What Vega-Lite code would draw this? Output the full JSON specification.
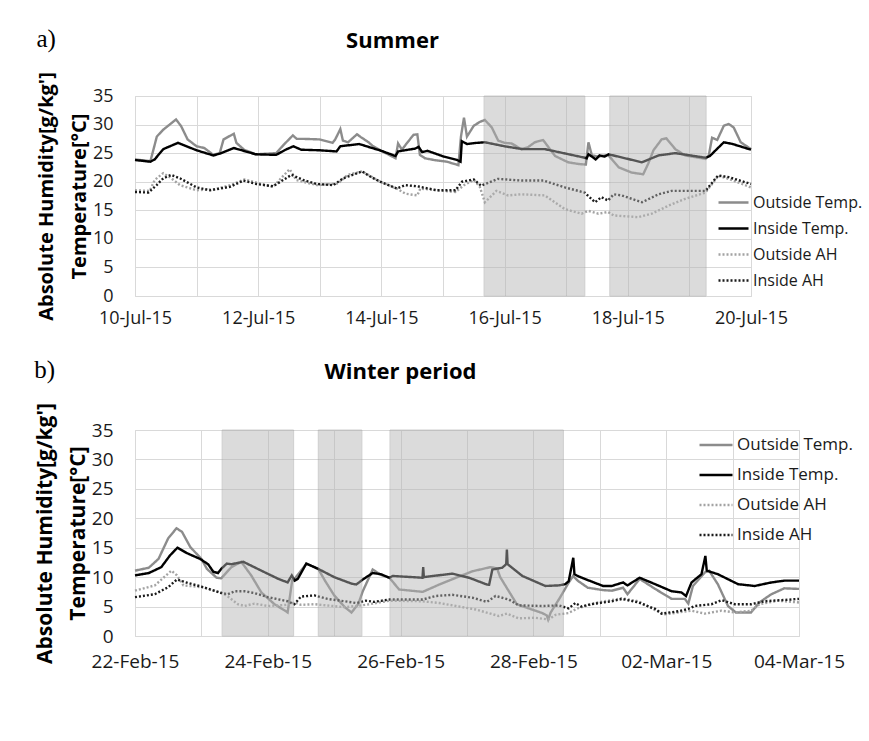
{
  "$schema": "https://vega.github.io/schema/vega-lite/v6.json",
  "background": "white",
  "padding": {"top": 26, "left": 33, "right": 0, "bottom": 0},
  "spacing": 29,
  "config": {
    "view": {"stroke": "#d9d9d9", "strokeWidth": 1},
    "font": "Open Sans",
    "axis": {"labelColor": "#1a1a1a", "titleColor": "#000000", "gridColor": "#d9d9d9", "gridWidth": 1, "domain": false, "ticks": false, "labelFont": "Open Sans", "titleFont": "Open Sans"},
    "legend": {"labelFont": "Open Sans", "labelColor": "#1a1a1a"}
  },
  "resolve": {"scale": {"color": "independent", "strokeDash": "independent", "x": "independent", "y": "independent"}},
  "datasets": {
    "summer": [
      {"t": "2015-07-10T00:00", "s": "Outside Temp.", "v": 23.9},
      {"t": "2015-07-10T06:00", "s": "Outside Temp.", "v": 23.6},
      {"t": "2015-07-10T07:00", "s": "Outside Temp.", "v": 25.3},
      {"t": "2015-07-10T08:30", "s": "Outside Temp.", "v": 27.9},
      {"t": "2015-07-10T11:00", "s": "Outside Temp.", "v": 29.1},
      {"t": "2015-07-10T13:30", "s": "Outside Temp.", "v": 30.0},
      {"t": "2015-07-10T16:00", "s": "Outside Temp.", "v": 30.9},
      {"t": "2015-07-10T18:00", "s": "Outside Temp.", "v": 29.7},
      {"t": "2015-07-10T20:30", "s": "Outside Temp.", "v": 27.4},
      {"t": "2015-07-11T00:00", "s": "Outside Temp.", "v": 26.2},
      {"t": "2015-07-11T03:00", "s": "Outside Temp.", "v": 25.9},
      {"t": "2015-07-11T06:30", "s": "Outside Temp.", "v": 24.7},
      {"t": "2015-07-11T09:00", "s": "Outside Temp.", "v": 25.0},
      {"t": "2015-07-11T10:30", "s": "Outside Temp.", "v": 27.4},
      {"t": "2015-07-11T14:30", "s": "Outside Temp.", "v": 28.4},
      {"t": "2015-07-11T15:30", "s": "Outside Temp.", "v": 26.8},
      {"t": "2015-07-11T18:30", "s": "Outside Temp.", "v": 25.6},
      {"t": "2015-07-11T23:00", "s": "Outside Temp.", "v": 24.8},
      {"t": "2015-07-12T07:00", "s": "Outside Temp.", "v": 25.0},
      {"t": "2015-07-12T10:00", "s": "Outside Temp.", "v": 26.5},
      {"t": "2015-07-12T13:30", "s": "Outside Temp.", "v": 28.1},
      {"t": "2015-07-12T15:00", "s": "Outside Temp.", "v": 27.5},
      {"t": "2015-07-12T17:30", "s": "Outside Temp.", "v": 27.5},
      {"t": "2015-07-13T00:00", "s": "Outside Temp.", "v": 27.4},
      {"t": "2015-07-13T05:00", "s": "Outside Temp.", "v": 26.8},
      {"t": "2015-07-13T06:00", "s": "Outside Temp.", "v": 27.4},
      {"t": "2015-07-13T08:00", "s": "Outside Temp.", "v": 29.2},
      {"t": "2015-07-13T09:00", "s": "Outside Temp.", "v": 27.2},
      {"t": "2015-07-13T11:00", "s": "Outside Temp.", "v": 26.9},
      {"t": "2015-07-13T14:30", "s": "Outside Temp.", "v": 28.3},
      {"t": "2015-07-13T16:00", "s": "Outside Temp.", "v": 27.8},
      {"t": "2015-07-13T19:00", "s": "Outside Temp.", "v": 26.9},
      {"t": "2015-07-13T20:30", "s": "Outside Temp.", "v": 26.3},
      {"t": "2015-07-14T00:00", "s": "Outside Temp.", "v": 25.4},
      {"t": "2015-07-14T05:30", "s": "Outside Temp.", "v": 24.1},
      {"t": "2015-07-14T06:30", "s": "Outside Temp.", "v": 26.7},
      {"t": "2015-07-14T08:00", "s": "Outside Temp.", "v": 25.6},
      {"t": "2015-07-14T09:30", "s": "Outside Temp.", "v": 26.5},
      {"t": "2015-07-14T12:30", "s": "Outside Temp.", "v": 28.2},
      {"t": "2015-07-14T14:00", "s": "Outside Temp.", "v": 28.3},
      {"t": "2015-07-14T15:00", "s": "Outside Temp.", "v": 24.7},
      {"t": "2015-07-14T17:00", "s": "Outside Temp.", "v": 24.1},
      {"t": "2015-07-14T20:30", "s": "Outside Temp.", "v": 23.8},
      {"t": "2015-07-15T01:30", "s": "Outside Temp.", "v": 23.5},
      {"t": "2015-07-15T06:00", "s": "Outside Temp.", "v": 22.9},
      {"t": "2015-07-15T07:00", "s": "Outside Temp.", "v": 27.9},
      {"t": "2015-07-15T08:10", "s": "Outside Temp.", "v": 31.2},
      {"t": "2015-07-15T09:20", "s": "Outside Temp.", "v": 27.9},
      {"t": "2015-07-15T12:00", "s": "Outside Temp.", "v": 29.8},
      {"t": "2015-07-15T14:30", "s": "Outside Temp.", "v": 30.5},
      {"t": "2015-07-15T16:20", "s": "Outside Temp.", "v": 30.8},
      {"t": "2015-07-15T19:00", "s": "Outside Temp.", "v": 29.5},
      {"t": "2015-07-15T21:30", "s": "Outside Temp.", "v": 27.2},
      {"t": "2015-07-16T00:00", "s": "Outside Temp.", "v": 26.8},
      {"t": "2015-07-16T02:40", "s": "Outside Temp.", "v": 26.7},
      {"t": "2015-07-16T06:30", "s": "Outside Temp.", "v": 25.7},
      {"t": "2015-07-16T09:00", "s": "Outside Temp.", "v": 26.0},
      {"t": "2015-07-16T11:45", "s": "Outside Temp.", "v": 26.9},
      {"t": "2015-07-16T15:00", "s": "Outside Temp.", "v": 27.3},
      {"t": "2015-07-16T16:20", "s": "Outside Temp.", "v": 26.5},
      {"t": "2015-07-16T19:40", "s": "Outside Temp.", "v": 24.5},
      {"t": "2015-07-17T00:45", "s": "Outside Temp.", "v": 23.4},
      {"t": "2015-07-17T04:50", "s": "Outside Temp.", "v": 23.1},
      {"t": "2015-07-17T07:40", "s": "Outside Temp.", "v": 23.0},
      {"t": "2015-07-17T08:40", "s": "Outside Temp.", "v": 26.9},
      {"t": "2015-07-17T10:00", "s": "Outside Temp.", "v": 24.6},
      {"t": "2015-07-17T12:30", "s": "Outside Temp.", "v": 24.4},
      {"t": "2015-07-17T16:20", "s": "Outside Temp.", "v": 24.7},
      {"t": "2015-07-17T20:30", "s": "Outside Temp.", "v": 22.5},
      {"t": "2015-07-18T01:30", "s": "Outside Temp.", "v": 21.6},
      {"t": "2015-07-18T06:00", "s": "Outside Temp.", "v": 21.3},
      {"t": "2015-07-18T08:00", "s": "Outside Temp.", "v": 23.2},
      {"t": "2015-07-18T10:00", "s": "Outside Temp.", "v": 25.5},
      {"t": "2015-07-18T13:10", "s": "Outside Temp.", "v": 27.4},
      {"t": "2015-07-18T15:00", "s": "Outside Temp.", "v": 27.6},
      {"t": "2015-07-18T18:30", "s": "Outside Temp.", "v": 25.7},
      {"t": "2015-07-18T22:20", "s": "Outside Temp.", "v": 24.6},
      {"t": "2015-07-19T06:15", "s": "Outside Temp.", "v": 24.0},
      {"t": "2015-07-19T07:30", "s": "Outside Temp.", "v": 24.5},
      {"t": "2015-07-19T08:50", "s": "Outside Temp.", "v": 27.7},
      {"t": "2015-07-19T10:50", "s": "Outside Temp.", "v": 27.3},
      {"t": "2015-07-19T13:25", "s": "Outside Temp.", "v": 29.8},
      {"t": "2015-07-19T15:20", "s": "Outside Temp.", "v": 30.1},
      {"t": "2015-07-19T17:15", "s": "Outside Temp.", "v": 29.5},
      {"t": "2015-07-19T20:00", "s": "Outside Temp.", "v": 26.9},
      {"t": "2015-07-20T00:00", "s": "Outside Temp.", "v": 25.7},

      {"t": "2015-07-10T00:00", "s": "Inside Temp.", "v": 23.8},
      {"t": "2015-07-10T06:00", "s": "Inside Temp.", "v": 23.5},
      {"t": "2015-07-10T07:40", "s": "Inside Temp.", "v": 23.9},
      {"t": "2015-07-10T11:00", "s": "Inside Temp.", "v": 25.7},
      {"t": "2015-07-10T16:45", "s": "Inside Temp.", "v": 26.8},
      {"t": "2015-07-11T00:00", "s": "Inside Temp.", "v": 25.5},
      {"t": "2015-07-11T06:30", "s": "Inside Temp.", "v": 24.6},
      {"t": "2015-07-11T09:00", "s": "Inside Temp.", "v": 24.9},
      {"t": "2015-07-11T14:30", "s": "Inside Temp.", "v": 25.9},
      {"t": "2015-07-11T23:00", "s": "Inside Temp.", "v": 24.8},
      {"t": "2015-07-12T07:00", "s": "Inside Temp.", "v": 24.7},
      {"t": "2015-07-12T10:40", "s": "Inside Temp.", "v": 25.6},
      {"t": "2015-07-12T13:40", "s": "Inside Temp.", "v": 26.2},
      {"t": "2015-07-12T16:45", "s": "Inside Temp.", "v": 25.6},
      {"t": "2015-07-13T00:00", "s": "Inside Temp.", "v": 25.5},
      {"t": "2015-07-13T06:30", "s": "Inside Temp.", "v": 25.3},
      {"t": "2015-07-13T08:00", "s": "Inside Temp.", "v": 26.2},
      {"t": "2015-07-13T15:20", "s": "Inside Temp.", "v": 26.6},
      {"t": "2015-07-14T00:00", "s": "Inside Temp.", "v": 25.4},
      {"t": "2015-07-14T05:30", "s": "Inside Temp.", "v": 24.5},
      {"t": "2015-07-14T06:30", "s": "Inside Temp.", "v": 25.3},
      {"t": "2015-07-14T13:10", "s": "Inside Temp.", "v": 25.8},
      {"t": "2015-07-14T14:30", "s": "Inside Temp.", "v": 26.1},
      {"t": "2015-07-14T15:50", "s": "Inside Temp.", "v": 25.2},
      {"t": "2015-07-14T18:00", "s": "Inside Temp.", "v": 25.4},
      {"t": "2015-07-15T00:15", "s": "Inside Temp.", "v": 24.4},
      {"t": "2015-07-15T05:30", "s": "Inside Temp.", "v": 23.8},
      {"t": "2015-07-15T06:50", "s": "Inside Temp.", "v": 23.5},
      {"t": "2015-07-15T07:20", "s": "Inside Temp.", "v": 27.1},
      {"t": "2015-07-15T09:20", "s": "Inside Temp.", "v": 26.6},
      {"t": "2015-07-15T13:10", "s": "Inside Temp.", "v": 26.8},
      {"t": "2015-07-15T16:20", "s": "Inside Temp.", "v": 26.9},
      {"t": "2015-07-16T00:00", "s": "Inside Temp.", "v": 26.2},
      {"t": "2015-07-16T07:00", "s": "Inside Temp.", "v": 25.7},
      {"t": "2015-07-16T15:40", "s": "Inside Temp.", "v": 25.7},
      {"t": "2015-07-17T00:00", "s": "Inside Temp.", "v": 24.9},
      {"t": "2015-07-17T07:10", "s": "Inside Temp.", "v": 24.2},
      {"t": "2015-07-17T08:00", "s": "Inside Temp.", "v": 24.1},
      {"t": "2015-07-17T08:40", "s": "Inside Temp.", "v": 24.8},
      {"t": "2015-07-17T10:00", "s": "Inside Temp.", "v": 24.4},
      {"t": "2015-07-17T11:30", "s": "Inside Temp.", "v": 23.9},
      {"t": "2015-07-17T13:00", "s": "Inside Temp.", "v": 24.6},
      {"t": "2015-07-17T15:00", "s": "Inside Temp.", "v": 24.4},
      {"t": "2015-07-17T16:30", "s": "Inside Temp.", "v": 24.8},
      {"t": "2015-07-18T05:30", "s": "Inside Temp.", "v": 23.4},
      {"t": "2015-07-18T12:00", "s": "Inside Temp.", "v": 24.6},
      {"t": "2015-07-18T18:30", "s": "Inside Temp.", "v": 25.0},
      {"t": "2015-07-19T06:15", "s": "Inside Temp.", "v": 24.2},
      {"t": "2015-07-19T08:00", "s": "Inside Temp.", "v": 24.5},
      {"t": "2015-07-19T10:00", "s": "Inside Temp.", "v": 25.4},
      {"t": "2015-07-19T13:25", "s": "Inside Temp.", "v": 26.9},
      {"t": "2015-07-19T16:50", "s": "Inside Temp.", "v": 26.6},
      {"t": "2015-07-20T00:00", "s": "Inside Temp.", "v": 25.6},

      {"t": "2015-07-10T00:00", "s": "Outside AH", "v": 18.5},
      {"t": "2015-07-10T05:45", "s": "Outside AH", "v": 18.4},
      {"t": "2015-07-10T07:40", "s": "Outside AH", "v": 20.3},
      {"t": "2015-07-10T11:00", "s": "Outside AH", "v": 21.5},
      {"t": "2015-07-10T14:10", "s": "Outside AH", "v": 20.6},
      {"t": "2015-07-10T17:30", "s": "Outside AH", "v": 19.4},
      {"t": "2015-07-11T00:00", "s": "Outside AH", "v": 18.5},
      {"t": "2015-07-11T07:10", "s": "Outside AH", "v": 18.7},
      {"t": "2015-07-11T13:00", "s": "Outside AH", "v": 19.4},
      {"t": "2015-07-11T18:40", "s": "Outside AH", "v": 20.4},
      {"t": "2015-07-12T05:45", "s": "Outside AH", "v": 19.1},
      {"t": "2015-07-12T12:15", "s": "Outside AH", "v": 22.2},
      {"t": "2015-07-12T14:50", "s": "Outside AH", "v": 20.3},
      {"t": "2015-07-12T22:50", "s": "Outside AH", "v": 19.4},
      {"t": "2015-07-13T07:10", "s": "Outside AH", "v": 19.7},
      {"t": "2015-07-13T10:50", "s": "Outside AH", "v": 21.2},
      {"t": "2015-07-13T16:30", "s": "Outside AH", "v": 21.8},
      {"t": "2015-07-13T23:30", "s": "Outside AH", "v": 20.0},
      {"t": "2015-07-14T06:00", "s": "Outside AH", "v": 18.8},
      {"t": "2015-07-14T09:20", "s": "Outside AH", "v": 17.9},
      {"t": "2015-07-14T14:00", "s": "Outside AH", "v": 17.6},
      {"t": "2015-07-14T15:10", "s": "Outside AH", "v": 18.8},
      {"t": "2015-07-14T21:40", "s": "Outside AH", "v": 18.5},
      {"t": "2015-07-15T04:50", "s": "Outside AH", "v": 18.2},
      {"t": "2015-07-15T08:10", "s": "Outside AH", "v": 19.4},
      {"t": "2015-07-15T12:00", "s": "Outside AH", "v": 20.3},
      {"t": "2015-07-15T14:20", "s": "Outside AH", "v": 19.1},
      {"t": "2015-07-15T16:20", "s": "Outside AH", "v": 16.4},
      {"t": "2015-07-15T20:50", "s": "Outside AH", "v": 18.4},
      {"t": "2015-07-16T01:25", "s": "Outside AH", "v": 17.6},
      {"t": "2015-07-16T06:30", "s": "Outside AH", "v": 17.8},
      {"t": "2015-07-16T15:40", "s": "Outside AH", "v": 17.6},
      {"t": "2015-07-16T23:30", "s": "Outside AH", "v": 15.2},
      {"t": "2015-07-17T06:00", "s": "Outside AH", "v": 14.4},
      {"t": "2015-07-17T08:40", "s": "Outside AH", "v": 14.9},
      {"t": "2015-07-17T12:30", "s": "Outside AH", "v": 14.4},
      {"t": "2015-07-17T16:20", "s": "Outside AH", "v": 14.7},
      {"t": "2015-07-17T18:30", "s": "Outside AH", "v": 14.1},
      {"t": "2015-07-18T04:05", "s": "Outside AH", "v": 13.8},
      {"t": "2015-07-18T09:20", "s": "Outside AH", "v": 14.4},
      {"t": "2015-07-18T15:50", "s": "Outside AH", "v": 15.8},
      {"t": "2015-07-18T22:20", "s": "Outside AH", "v": 17.0},
      {"t": "2015-07-19T06:15", "s": "Outside AH", "v": 18.1},
      {"t": "2015-07-19T09:20", "s": "Outside AH", "v": 19.9},
      {"t": "2015-07-19T11:15", "s": "Outside AH", "v": 21.0},
      {"t": "2015-07-19T15:20", "s": "Outside AH", "v": 20.5},
      {"t": "2015-07-20T00:00", "s": "Outside AH", "v": 19.0},

      {"t": "2015-07-10T00:00", "s": "Inside AH", "v": 18.2},
      {"t": "2015-07-10T05:15", "s": "Inside AH", "v": 18.1},
      {"t": "2015-07-10T08:25", "s": "Inside AH", "v": 19.4},
      {"t": "2015-07-10T11:00", "s": "Inside AH", "v": 20.6},
      {"t": "2015-07-10T14:10", "s": "Inside AH", "v": 21.2},
      {"t": "2015-07-10T17:30", "s": "Inside AH", "v": 20.6},
      {"t": "2015-07-11T00:00", "s": "Inside AH", "v": 19.0},
      {"t": "2015-07-11T05:15", "s": "Inside AH", "v": 18.5},
      {"t": "2015-07-11T13:00", "s": "Inside AH", "v": 19.1},
      {"t": "2015-07-11T18:15", "s": "Inside AH", "v": 20.2},
      {"t": "2015-07-11T23:15", "s": "Inside AH", "v": 19.6},
      {"t": "2015-07-12T05:45", "s": "Inside AH", "v": 19.2},
      {"t": "2015-07-12T13:00", "s": "Inside AH", "v": 21.2},
      {"t": "2015-07-12T17:30", "s": "Inside AH", "v": 20.3},
      {"t": "2015-07-12T22:50", "s": "Inside AH", "v": 19.6},
      {"t": "2015-07-13T05:15", "s": "Inside AH", "v": 19.4},
      {"t": "2015-07-13T09:10", "s": "Inside AH", "v": 20.6},
      {"t": "2015-07-13T16:30", "s": "Inside AH", "v": 21.8},
      {"t": "2015-07-13T19:40", "s": "Inside AH", "v": 20.9},
      {"t": "2015-07-13T23:30", "s": "Inside AH", "v": 20.0},
      {"t": "2015-07-14T06:00", "s": "Inside AH", "v": 18.8},
      {"t": "2015-07-14T09:20", "s": "Inside AH", "v": 19.4},
      {"t": "2015-07-14T14:00", "s": "Inside AH", "v": 19.2},
      {"t": "2015-07-14T21:40", "s": "Inside AH", "v": 18.5},
      {"t": "2015-07-15T04:50", "s": "Inside AH", "v": 18.5},
      {"t": "2015-07-15T07:25", "s": "Inside AH", "v": 20.0},
      {"t": "2015-07-15T12:00", "s": "Inside AH", "v": 20.4},
      {"t": "2015-07-15T14:50", "s": "Inside AH", "v": 19.3},
      {"t": "2015-07-15T21:20", "s": "Inside AH", "v": 20.5},
      {"t": "2015-07-16T06:30", "s": "Inside AH", "v": 20.2},
      {"t": "2015-07-16T15:10", "s": "Inside AH", "v": 20.2},
      {"t": "2015-07-16T23:30", "s": "Inside AH", "v": 19.0},
      {"t": "2015-07-17T07:10", "s": "Inside AH", "v": 18.1},
      {"t": "2015-07-17T11:15", "s": "Inside AH", "v": 16.4},
      {"t": "2015-07-17T13:40", "s": "Inside AH", "v": 17.3},
      {"t": "2015-07-17T16:20", "s": "Inside AH", "v": 16.7},
      {"t": "2015-07-17T18:30", "s": "Inside AH", "v": 17.8},
      {"t": "2015-07-17T21:40", "s": "Inside AH", "v": 17.6},
      {"t": "2015-07-18T05:30", "s": "Inside AH", "v": 16.4},
      {"t": "2015-07-18T12:00", "s": "Inside AH", "v": 17.8},
      {"t": "2015-07-18T17:00", "s": "Inside AH", "v": 18.4},
      {"t": "2015-07-19T06:15", "s": "Inside AH", "v": 18.4},
      {"t": "2015-07-19T10:05", "s": "Inside AH", "v": 20.5},
      {"t": "2015-07-19T11:15", "s": "Inside AH", "v": 21.1},
      {"t": "2015-07-19T15:20", "s": "Inside AH", "v": 20.8},
      {"t": "2015-07-20T00:00", "s": "Inside AH", "v": 19.6}
    ],
    "summerShade": [
      {"start": "2015-07-15T16:00", "end": "2015-07-17T07:15"},
      {"start": "2015-07-17T17:00", "end": "2015-07-19T06:30"}
    ],
    "winter": [
      {"t": "2015-02-22T00:00", "s": "Outside Temp.", "v": 11.1},
      {"t": "2015-02-22T05:00", "s": "Outside Temp.", "v": 11.6},
      {"t": "2015-02-22T08:30", "s": "Outside Temp.", "v": 13.1},
      {"t": "2015-02-22T12:00", "s": "Outside Temp.", "v": 16.6},
      {"t": "2015-02-22T15:00", "s": "Outside Temp.", "v": 18.3},
      {"t": "2015-02-22T17:00", "s": "Outside Temp.", "v": 17.7},
      {"t": "2015-02-22T20:00", "s": "Outside Temp.", "v": 15.1},
      {"t": "2015-02-23T00:00", "s": "Outside Temp.", "v": 13.1},
      {"t": "2015-02-23T02:00", "s": "Outside Temp.", "v": 11.4},
      {"t": "2015-02-23T05:30", "s": "Outside Temp.", "v": 9.9},
      {"t": "2015-02-23T07:10", "s": "Outside Temp.", "v": 9.8},
      {"t": "2015-02-23T10:50", "s": "Outside Temp.", "v": 11.7},
      {"t": "2015-02-23T14:25", "s": "Outside Temp.", "v": 12.6},
      {"t": "2015-02-23T18:00", "s": "Outside Temp.", "v": 10.3},
      {"t": "2015-02-23T21:40", "s": "Outside Temp.", "v": 7.4},
      {"t": "2015-02-24T02:25", "s": "Outside Temp.", "v": 5.4},
      {"t": "2015-02-24T06:15", "s": "Outside Temp.", "v": 4.3},
      {"t": "2015-02-24T07:10", "s": "Outside Temp.", "v": 4.0},
      {"t": "2015-02-24T08:50", "s": "Outside Temp.", "v": 9.5},
      {"t": "2015-02-24T09:40", "s": "Outside Temp.", "v": 9.7},
      {"t": "2015-02-24T14:00", "s": "Outside Temp.", "v": 12.3},
      {"t": "2015-02-24T18:15", "s": "Outside Temp.", "v": 11.4},
      {"t": "2015-02-24T20:40", "s": "Outside Temp.", "v": 9.4},
      {"t": "2015-02-25T00:00", "s": "Outside Temp.", "v": 6.9},
      {"t": "2015-02-25T03:50", "s": "Outside Temp.", "v": 4.9},
      {"t": "2015-02-25T06:15", "s": "Outside Temp.", "v": 4.0},
      {"t": "2015-02-25T08:40", "s": "Outside Temp.", "v": 5.4},
      {"t": "2015-02-25T10:20", "s": "Outside Temp.", "v": 7.6},
      {"t": "2015-02-25T13:55", "s": "Outside Temp.", "v": 11.3},
      {"t": "2015-02-25T16:50", "s": "Outside Temp.", "v": 10.4},
      {"t": "2015-02-25T19:55", "s": "Outside Temp.", "v": 9.9},
      {"t": "2015-02-25T23:30", "s": "Outside Temp.", "v": 7.9},
      {"t": "2015-02-26T08:00", "s": "Outside Temp.", "v": 7.5},
      {"t": "2015-02-26T14:00", "s": "Outside Temp.", "v": 8.75},
      {"t": "2015-02-26T20:00", "s": "Outside Temp.", "v": 9.9},
      {"t": "2015-02-27T02:00", "s": "Outside Temp.", "v": 11.0},
      {"t": "2015-02-27T08:30", "s": "Outside Temp.", "v": 11.7},
      {"t": "2015-02-27T10:50", "s": "Outside Temp.", "v": 11.5},
      {"t": "2015-02-27T12:00", "s": "Outside Temp.", "v": 10.0},
      {"t": "2015-02-27T18:00", "s": "Outside Temp.", "v": 5.4},
      {"t": "2015-02-27T23:30", "s": "Outside Temp.", "v": 4.5},
      {"t": "2015-02-28T03:10", "s": "Outside Temp.", "v": 3.9},
      {"t": "2015-02-28T04:50", "s": "Outside Temp.", "v": 3.5},
      {"t": "2015-02-28T05:20", "s": "Outside Temp.", "v": 2.8},
      {"t": "2015-02-28T06:15", "s": "Outside Temp.", "v": 4.0},
      {"t": "2015-02-28T09:35", "s": "Outside Temp.", "v": 6.5},
      {"t": "2015-02-28T12:40", "s": "Outside Temp.", "v": 9.0},
      {"t": "2015-02-28T14:20", "s": "Outside Temp.", "v": 10.2},
      {"t": "2015-02-28T16:00", "s": "Outside Temp.", "v": 9.4},
      {"t": "2015-02-28T19:40", "s": "Outside Temp.", "v": 8.2},
      {"t": "2015-03-01T01:10", "s": "Outside Temp.", "v": 7.8},
      {"t": "2015-03-01T04:20", "s": "Outside Temp.", "v": 7.7},
      {"t": "2015-03-01T08:25", "s": "Outside Temp.", "v": 8.2},
      {"t": "2015-03-01T10:00", "s": "Outside Temp.", "v": 7.1},
      {"t": "2015-03-01T14:25", "s": "Outside Temp.", "v": 9.7},
      {"t": "2015-03-01T20:00", "s": "Outside Temp.", "v": 8.0},
      {"t": "2015-03-02T02:00", "s": "Outside Temp.", "v": 6.3},
      {"t": "2015-03-02T06:45", "s": "Outside Temp.", "v": 6.3},
      {"t": "2015-03-02T08:00", "s": "Outside Temp.", "v": 5.5},
      {"t": "2015-03-02T09:40", "s": "Outside Temp.", "v": 8.5},
      {"t": "2015-03-02T14:00", "s": "Outside Temp.", "v": 10.8},
      {"t": "2015-03-02T15:30", "s": "Outside Temp.", "v": 11.1},
      {"t": "2015-03-02T18:40", "s": "Outside Temp.", "v": 8.8},
      {"t": "2015-03-02T22:20", "s": "Outside Temp.", "v": 5.1},
      {"t": "2015-03-03T01:10", "s": "Outside Temp.", "v": 4.0},
      {"t": "2015-03-03T06:40", "s": "Outside Temp.", "v": 4.0},
      {"t": "2015-03-03T09:40", "s": "Outside Temp.", "v": 5.7},
      {"t": "2015-03-03T14:00", "s": "Outside Temp.", "v": 7.1},
      {"t": "2015-03-03T18:40", "s": "Outside Temp.", "v": 8.1},
      {"t": "2015-03-04T00:00", "s": "Outside Temp.", "v": 8.0},

      {"t": "2015-02-22T00:00", "s": "Inside Temp.", "v": 10.3},
      {"t": "2015-02-22T05:00", "s": "Inside Temp.", "v": 10.7},
      {"t": "2015-02-22T09:30", "s": "Inside Temp.", "v": 11.7},
      {"t": "2015-02-22T12:40", "s": "Inside Temp.", "v": 13.7},
      {"t": "2015-02-22T15:20", "s": "Inside Temp.", "v": 15.0},
      {"t": "2015-02-22T18:40", "s": "Inside Temp.", "v": 14.1},
      {"t": "2015-02-22T23:30", "s": "Inside Temp.", "v": 13.1},
      {"t": "2015-02-23T02:25", "s": "Inside Temp.", "v": 12.2},
      {"t": "2015-02-23T04:20", "s": "Inside Temp.", "v": 10.9},
      {"t": "2015-02-23T06:00", "s": "Inside Temp.", "v": 10.7},
      {"t": "2015-02-23T07:10", "s": "Inside Temp.", "v": 11.4},
      {"t": "2015-02-23T09:10", "s": "Inside Temp.", "v": 12.3},
      {"t": "2015-02-23T10:50", "s": "Inside Temp.", "v": 12.2},
      {"t": "2015-02-23T15:10", "s": "Inside Temp.", "v": 12.6},
      {"t": "2015-02-23T21:40", "s": "Inside Temp.", "v": 11.1},
      {"t": "2015-02-24T03:50", "s": "Inside Temp.", "v": 9.7},
      {"t": "2015-02-24T07:10", "s": "Inside Temp.", "v": 9.1},
      {"t": "2015-02-24T08:40", "s": "Inside Temp.", "v": 10.3},
      {"t": "2015-02-24T09:40", "s": "Inside Temp.", "v": 9.4},
      {"t": "2015-02-24T10:50", "s": "Inside Temp.", "v": 9.7},
      {"t": "2015-02-24T13:55", "s": "Inside Temp.", "v": 12.3},
      {"t": "2015-02-24T18:15", "s": "Inside Temp.", "v": 11.4},
      {"t": "2015-02-25T00:00", "s": "Inside Temp.", "v": 10.0},
      {"t": "2015-02-25T06:15", "s": "Inside Temp.", "v": 8.9},
      {"t": "2015-02-25T08:00", "s": "Inside Temp.", "v": 8.75},
      {"t": "2015-02-25T10:20", "s": "Inside Temp.", "v": 9.6},
      {"t": "2015-02-25T13:55", "s": "Inside Temp.", "v": 10.7},
      {"t": "2015-02-25T16:50", "s": "Inside Temp.", "v": 10.5},
      {"t": "2015-02-25T19:55", "s": "Inside Temp.", "v": 9.9},
      {"t": "2015-02-25T21:10", "s": "Inside Temp.", "v": 10.2},
      {"t": "2015-02-26T07:55", "s": "Inside Temp.", "v": 9.9},
      {"t": "2015-02-26T08:10", "s": "Inside Temp.", "v": 11.7},
      {"t": "2015-02-26T08:25", "s": "Inside Temp.", "v": 10.0},
      {"t": "2015-02-26T18:40", "s": "Inside Temp.", "v": 10.6},
      {"t": "2015-02-27T00:45", "s": "Inside Temp.", "v": 9.9},
      {"t": "2015-02-27T07:10", "s": "Inside Temp.", "v": 8.75},
      {"t": "2015-02-27T08:00", "s": "Inside Temp.", "v": 8.7},
      {"t": "2015-02-27T09:10", "s": "Inside Temp.", "v": 11.3},
      {"t": "2015-02-27T12:45", "s": "Inside Temp.", "v": 11.6},
      {"t": "2015-02-27T14:10", "s": "Inside Temp.", "v": 12.2},
      {"t": "2015-02-27T14:25", "s": "Inside Temp.", "v": 14.7},
      {"t": "2015-02-27T14:40", "s": "Inside Temp.", "v": 12.2},
      {"t": "2015-02-27T20:00", "s": "Inside Temp.", "v": 10.2},
      {"t": "2015-02-28T04:20", "s": "Inside Temp.", "v": 8.5},
      {"t": "2015-02-28T09:10", "s": "Inside Temp.", "v": 8.6},
      {"t": "2015-02-28T11:30", "s": "Inside Temp.", "v": 8.8},
      {"t": "2015-02-28T12:45", "s": "Inside Temp.", "v": 9.3},
      {"t": "2015-02-28T14:25", "s": "Inside Temp.", "v": 13.3},
      {"t": "2015-02-28T14:50", "s": "Inside Temp.", "v": 10.5},
      {"t": "2015-02-28T16:00", "s": "Inside Temp.", "v": 10.2},
      {"t": "2015-02-28T19:40", "s": "Inside Temp.", "v": 9.5},
      {"t": "2015-03-01T01:10", "s": "Inside Temp.", "v": 8.5},
      {"t": "2015-03-01T04:20", "s": "Inside Temp.", "v": 8.5},
      {"t": "2015-03-01T08:25", "s": "Inside Temp.", "v": 9.1},
      {"t": "2015-03-01T10:00", "s": "Inside Temp.", "v": 8.6},
      {"t": "2015-03-01T14:25", "s": "Inside Temp.", "v": 9.9},
      {"t": "2015-03-01T20:00", "s": "Inside Temp.", "v": 8.8},
      {"t": "2015-03-02T02:00", "s": "Inside Temp.", "v": 7.6},
      {"t": "2015-03-02T05:30", "s": "Inside Temp.", "v": 7.4},
      {"t": "2015-03-02T07:10", "s": "Inside Temp.", "v": 6.8},
      {"t": "2015-03-02T09:10", "s": "Inside Temp.", "v": 9.1},
      {"t": "2015-03-02T12:45", "s": "Inside Temp.", "v": 10.5},
      {"t": "2015-03-02T14:10", "s": "Inside Temp.", "v": 13.6},
      {"t": "2015-03-02T14:40", "s": "Inside Temp.", "v": 11.1},
      {"t": "2015-03-02T18:40", "s": "Inside Temp.", "v": 10.5},
      {"t": "2015-03-03T02:00", "s": "Inside Temp.", "v": 8.8},
      {"t": "2015-03-03T08:00", "s": "Inside Temp.", "v": 8.5},
      {"t": "2015-03-03T14:00", "s": "Inside Temp.", "v": 9.1},
      {"t": "2015-03-03T18:40", "s": "Inside Temp.", "v": 9.4},
      {"t": "2015-03-04T00:00", "s": "Inside Temp.", "v": 9.4},

      {"t": "2015-02-22T00:00", "s": "Outside AH", "v": 7.7},
      {"t": "2015-02-22T07:10", "s": "Outside AH", "v": 8.6},
      {"t": "2015-02-22T13:10", "s": "Outside AH", "v": 11.1},
      {"t": "2015-02-22T15:10", "s": "Outside AH", "v": 10.3},
      {"t": "2015-02-22T17:30", "s": "Outside AH", "v": 8.6},
      {"t": "2015-02-23T00:00", "s": "Outside AH", "v": 8.3},
      {"t": "2015-02-23T07:10", "s": "Outside AH", "v": 7.4},
      {"t": "2015-02-23T09:35", "s": "Outside AH", "v": 6.7},
      {"t": "2015-02-23T13:10", "s": "Outside AH", "v": 5.4},
      {"t": "2015-02-23T15:35", "s": "Outside AH", "v": 5.1},
      {"t": "2015-02-23T19:10", "s": "Outside AH", "v": 5.5},
      {"t": "2015-02-24T00:00", "s": "Outside AH", "v": 5.1},
      {"t": "2015-02-24T07:10", "s": "Outside AH", "v": 5.3},
      {"t": "2015-02-24T09:35", "s": "Outside AH", "v": 5.7},
      {"t": "2015-02-24T12:00", "s": "Outside AH", "v": 5.3},
      {"t": "2015-02-24T16:50", "s": "Outside AH", "v": 5.4},
      {"t": "2015-02-25T03:50", "s": "Outside AH", "v": 4.9},
      {"t": "2015-02-25T08:00", "s": "Outside AH", "v": 5.1},
      {"t": "2015-02-25T11:30", "s": "Outside AH", "v": 5.3},
      {"t": "2015-02-25T15:10", "s": "Outside AH", "v": 5.6},
      {"t": "2015-02-25T19:55", "s": "Outside AH", "v": 6.0},
      {"t": "2015-02-26T08:00", "s": "Outside AH", "v": 5.9},
      {"t": "2015-02-26T14:00", "s": "Outside AH", "v": 5.6},
      {"t": "2015-02-26T20:00", "s": "Outside AH", "v": 5.1},
      {"t": "2015-02-27T03:10", "s": "Outside AH", "v": 4.5},
      {"t": "2015-02-27T11:30", "s": "Outside AH", "v": 3.4},
      {"t": "2015-02-27T14:25", "s": "Outside AH", "v": 3.8},
      {"t": "2015-02-27T18:40", "s": "Outside AH", "v": 3.0},
      {"t": "2015-02-28T00:45", "s": "Outside AH", "v": 3.1},
      {"t": "2015-02-28T05:30", "s": "Outside AH", "v": 2.8},
      {"t": "2015-02-28T08:00", "s": "Outside AH", "v": 3.6},
      {"t": "2015-02-28T12:40", "s": "Outside AH", "v": 3.9},
      {"t": "2015-02-28T16:00", "s": "Outside AH", "v": 4.7},
      {"t": "2015-02-28T23:15", "s": "Outside AH", "v": 5.7},
      {"t": "2015-03-01T08:00", "s": "Outside AH", "v": 6.4},
      {"t": "2015-03-01T14:00", "s": "Outside AH", "v": 5.9},
      {"t": "2015-03-01T20:00", "s": "Outside AH", "v": 4.4},
      {"t": "2015-03-01T23:30", "s": "Outside AH", "v": 3.7},
      {"t": "2015-03-02T04:20", "s": "Outside AH", "v": 4.0},
      {"t": "2015-03-02T09:10", "s": "Outside AH", "v": 4.3},
      {"t": "2015-03-02T14:00", "s": "Outside AH", "v": 3.8},
      {"t": "2015-03-02T20:00", "s": "Outside AH", "v": 4.3},
      {"t": "2015-03-03T00:45", "s": "Outside AH", "v": 4.0},
      {"t": "2015-03-03T06:45", "s": "Outside AH", "v": 4.3},
      {"t": "2015-03-03T09:40", "s": "Outside AH", "v": 5.4},
      {"t": "2015-03-03T16:20", "s": "Outside AH", "v": 6.0},
      {"t": "2015-03-04T00:00", "s": "Outside AH", "v": 5.7},

      {"t": "2015-02-22T00:00", "s": "Inside AH", "v": 6.6},
      {"t": "2015-02-22T07:10", "s": "Inside AH", "v": 7.1},
      {"t": "2015-02-22T12:00", "s": "Inside AH", "v": 8.3},
      {"t": "2015-02-22T15:10", "s": "Inside AH", "v": 9.6},
      {"t": "2015-02-22T19:10", "s": "Inside AH", "v": 9.0},
      {"t": "2015-02-23T00:00", "s": "Inside AH", "v": 8.4},
      {"t": "2015-02-23T07:10", "s": "Inside AH", "v": 7.3},
      {"t": "2015-02-23T09:35", "s": "Inside AH", "v": 7.1},
      {"t": "2015-02-23T12:00", "s": "Inside AH", "v": 7.6},
      {"t": "2015-02-23T15:35", "s": "Inside AH", "v": 7.6},
      {"t": "2015-02-23T19:10", "s": "Inside AH", "v": 7.3},
      {"t": "2015-02-24T00:00", "s": "Inside AH", "v": 6.6},
      {"t": "2015-02-24T07:10", "s": "Inside AH", "v": 5.9},
      {"t": "2015-02-24T09:35", "s": "Inside AH", "v": 5.4},
      {"t": "2015-02-24T12:00", "s": "Inside AH", "v": 6.7},
      {"t": "2015-02-24T16:50", "s": "Inside AH", "v": 6.9},
      {"t": "2015-02-24T21:35", "s": "Inside AH", "v": 6.3},
      {"t": "2015-02-25T03:50", "s": "Inside AH", "v": 5.9},
      {"t": "2015-02-25T08:00", "s": "Inside AH", "v": 5.6},
      {"t": "2015-02-25T11:30", "s": "Inside AH", "v": 6.0},
      {"t": "2015-02-25T14:25", "s": "Inside AH", "v": 5.8},
      {"t": "2015-02-25T19:55", "s": "Inside AH", "v": 6.2},
      {"t": "2015-02-26T08:00", "s": "Inside AH", "v": 6.2},
      {"t": "2015-02-26T12:45", "s": "Inside AH", "v": 6.8},
      {"t": "2015-02-26T18:40", "s": "Inside AH", "v": 7.0},
      {"t": "2015-02-27T02:00", "s": "Inside AH", "v": 6.5},
      {"t": "2015-02-27T07:10", "s": "Inside AH", "v": 5.8},
      {"t": "2015-02-27T10:20", "s": "Inside AH", "v": 6.8},
      {"t": "2015-02-27T15:10", "s": "Inside AH", "v": 6.2},
      {"t": "2015-02-27T18:40", "s": "Inside AH", "v": 5.2},
      {"t": "2015-02-28T03:10", "s": "Inside AH", "v": 5.1},
      {"t": "2015-02-28T09:10", "s": "Inside AH", "v": 5.2},
      {"t": "2015-02-28T12:45", "s": "Inside AH", "v": 4.7},
      {"t": "2015-02-28T15:10", "s": "Inside AH", "v": 5.6},
      {"t": "2015-02-28T17:15", "s": "Inside AH", "v": 5.0},
      {"t": "2015-02-28T20:50", "s": "Inside AH", "v": 5.4},
      {"t": "2015-03-01T04:20", "s": "Inside AH", "v": 5.9},
      {"t": "2015-03-01T08:00", "s": "Inside AH", "v": 6.3},
      {"t": "2015-03-01T14:00", "s": "Inside AH", "v": 5.7},
      {"t": "2015-03-01T20:00", "s": "Inside AH", "v": 4.6},
      {"t": "2015-03-01T22:20", "s": "Inside AH", "v": 3.8},
      {"t": "2015-03-02T04:20", "s": "Inside AH", "v": 4.2},
      {"t": "2015-03-02T08:00", "s": "Inside AH", "v": 4.6},
      {"t": "2015-03-02T10:20", "s": "Inside AH", "v": 5.1},
      {"t": "2015-03-02T16:20", "s": "Inside AH", "v": 5.4},
      {"t": "2015-03-02T20:00", "s": "Inside AH", "v": 6.1},
      {"t": "2015-03-03T00:45", "s": "Inside AH", "v": 5.4},
      {"t": "2015-03-03T06:45", "s": "Inside AH", "v": 5.4},
      {"t": "2015-03-03T11:30", "s": "Inside AH", "v": 5.9},
      {"t": "2015-03-04T00:00", "s": "Inside AH", "v": 6.3}
    ],
    "winterShade": [
      {"start": "2015-02-23T07:30", "end": "2015-02-24T09:20"},
      {"start": "2015-02-24T18:15", "end": "2015-02-25T10:00"},
      {"start": "2015-02-25T20:10", "end": "2015-02-28T10:50"}
    ]
  },
  "vconcat": [
    {
      "title": {"text": "a)", "anchor": "start", "frame": "bounds", "font": "Liberation Serif", "fontSize": 25, "fontWeight": "normal", "color": "#000000", "baseline": "alphabetic", "offset": 0, "dy": 43},
      "width": 616,
      "height": 200,
      "resolve": {"axis": {"x": "independent"}},
      "layer": [
        {
          "data": {"name": "summer"},
          "mark": {"type": "line", "strokeWidth": 2.4},
          "encoding": {
            "x": {"field": "t", "type": "temporal",
              "scale": {"domain": [{"year": 2015, "month": 7, "date": 10}, {"year": 2015, "month": 7, "date": 20}], "nice": false},
              "axis": {"title": null, "tickCount": {"interval": "day", "step": 1}, "labelExpr": "date(datum.value) % 2 == 0 ? timeFormat(datum.value, '%d-%b-%y') : ''", "labelOverlap": false, "labelFlush": false, "labelBound": false, "labelFontSize": 18, "labelPadding": 13, "grid": true}},
            "y": {"field": "v", "type": "quantitative",
              "scale": {"domain": [0, 35], "nice": false},
              "axis": {"values": [0, 5, 10, 15, 20, 25, 30, 35], "labelFontSize": 18, "labelPadding": 22, "title": ["Absolute Humidity[g/kg']", "Temperature[°C]"], "titleFontSize": 20, "titleFontWeight": "bold", "titleLineHeight": 33, "titlePadding": 3}},
            "color": {"field": "s", "type": "nominal",
              "scale": {"domain": ["Outside Temp.", "Inside Temp.", "Outside AH", "Inside AH"], "range": ["#8c8c8c", "#000000", "#a3a3a3", "#1a1a1a"]},
              "legend": {"orient": "none", "legendX": 582, "legendY": 90, "title": null, "direction": "vertical", "symbolType": "stroke", "symbolSize": 900, "symbolStrokeWidth": 2.5, "labelFontSize": 16, "rowPadding": 1, "labelOffset": 3}},
            "strokeDash": {"field": "s", "type": "nominal",
              "scale": {"domain": ["Outside Temp.", "Inside Temp.", "Outside AH", "Inside AH"], "range": [[1, 0], [1, 0], [2, 2], [2, 2]]},
              "legend": {"orient": "none", "legendX": 582, "legendY": 90, "title": null, "direction": "vertical", "symbolType": "stroke", "symbolSize": 900, "symbolStrokeWidth": 2.5, "labelFontSize": 16, "rowPadding": 1, "labelOffset": 3}}
          }
        },
        {
          "data": {"name": "summerShade"},
          "mark": {"type": "rect", "fill": "#b4b4b4", "opacity": 0.47, "stroke": "#9a9a9a", "strokeWidth": 1},
          "encoding": {
            "x": {"field": "start", "type": "temporal",
              "axis": {"orient": "top", "labels": false, "ticks": false, "domain": false, "grid": false, "title": "Summer", "titleFontSize": 22, "titleFontWeight": "bold", "titleX": 257, "titleY": -49, "titleAlign": "center", "titleBaseline": "alphabetic"}},
            "x2": {"field": "end"}
          }
        }
      ]
    },
    {
      "title": {"text": "b)", "anchor": "start", "frame": "bounds", "font": "Liberation Serif", "fontSize": 25, "fontWeight": "normal", "color": "#000000", "baseline": "alphabetic", "offset": 0, "dy": 43},
      "width": 664,
      "height": 206,
      "resolve": {"axis": {"x": "independent"}},
      "layer": [
        {
          "data": {"name": "winter"},
          "mark": {"type": "line", "strokeWidth": 2.4},
          "encoding": {
            "x": {"field": "t", "type": "temporal",
              "scale": {"domain": [{"year": 2015, "month": 2, "date": 22}, {"year": 2015, "month": 3, "date": 4}], "nice": false},
              "axis": {"title": null, "tickCount": {"interval": "day", "step": 1}, "labelExpr": "date(datum.value) % 2 == 0 ? timeFormat(datum.value, '%d-%b-%y') : ''", "labelOverlap": false, "labelFlush": false, "labelBound": false, "labelFontSize": 19, "labelPadding": 16, "grid": true}},
            "y": {"field": "v", "type": "quantitative",
              "scale": {"domain": [0, 35], "nice": false},
              "axis": {"values": [0, 5, 10, 15, 20, 25, 30, 35], "labelFontSize": 19, "labelPadding": 22, "title": ["Absolute Humidity[g/kg']", "Temperature[°C]"], "titleFontSize": 21, "titleFontWeight": "bold", "titleLineHeight": 33, "titlePadding": 3}},
            "color": {"field": "s", "type": "nominal",
              "scale": {"domain": ["Outside Temp.", "Inside Temp.", "Outside AH", "Inside AH"], "range": ["#8c8c8c", "#000000", "#a3a3a3", "#1a1a1a"]},
              "legend": {"orient": "none", "legendX": 563, "legendY": -3, "title": null, "direction": "vertical", "symbolType": "stroke", "symbolSize": 1089, "symbolStrokeWidth": 2.5, "labelFontSize": 17, "rowPadding": 4, "labelOffset": 3}},
            "strokeDash": {"field": "s", "type": "nominal",
              "scale": {"domain": ["Outside Temp.", "Inside Temp.", "Outside AH", "Inside AH"], "range": [[1, 0], [1, 0], [2, 2], [2, 2]]},
              "legend": {"orient": "none", "legendX": 563, "legendY": -3, "title": null, "direction": "vertical", "symbolType": "stroke", "symbolSize": 1089, "symbolStrokeWidth": 2.5, "labelFontSize": 17, "rowPadding": 4, "labelOffset": 3}}
          }
        },
        {
          "data": {"name": "winterShade"},
          "mark": {"type": "rect", "fill": "#b4b4b4", "opacity": 0.47, "stroke": "#9a9a9a", "strokeWidth": 1},
          "encoding": {
            "x": {"field": "start", "type": "temporal",
              "axis": {"orient": "top", "labels": false, "ticks": false, "domain": false, "grid": false, "title": "Winter period", "titleFontSize": 22, "titleFontWeight": "bold", "titleX": 265, "titleY": -52, "titleAlign": "center", "titleBaseline": "alphabetic"}},
            "x2": {"field": "end"}
          }
        }
      ]
    }
  ]
}
